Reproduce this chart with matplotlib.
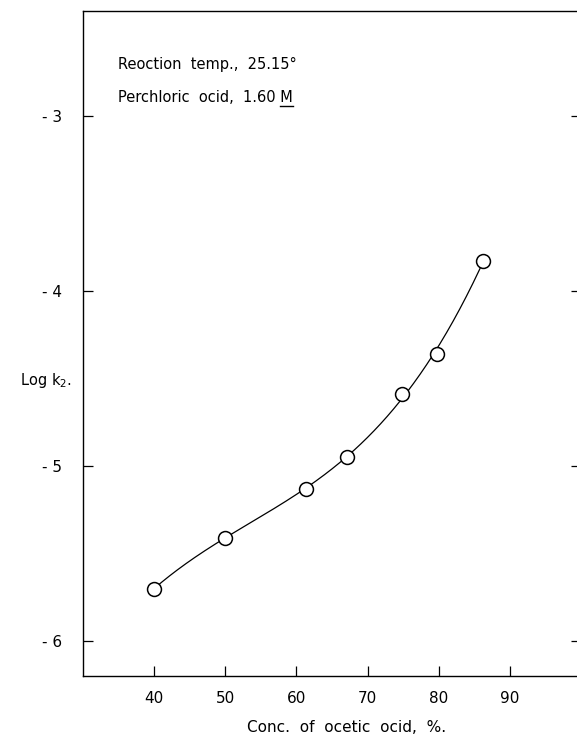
import numpy as np
import matplotlib
matplotlib.use("Agg")
import matplotlib.pyplot as plt
from matplotlib.lines import Line2D

# Data
conc_acetic = [40.0, 50.0, 61.3, 67.1, 74.8, 79.7, 86.2]
log_k2 = [-5.70, -5.41, -5.13, -4.95, -4.59, -4.36, -3.83]
x_ticks = [40, 50, 60, 70, 80, 90]
y_ticks = [-3, -4, -5, -6]
y_tick_labels = ["- 3", "- 4", "- 5", "- 6"]
note_lines = ["Reoction  temp.,  25.15°", "Perchloric  ocid,  1.60 M"]

W, H = 577, 736
fig = plt.figure(figsize=(W / 100, H / 100), dpi=100)
ax = fig.add_axes([83 / W, (H - 676) / H, 498 / W, 665 / H])

# smooth hand-drawn style curve through the points (least-squares cubic)
coef = np.polyfit(conc_acetic, log_k2, 3)
xs = np.linspace(conc_acetic[0], conc_acetic[-1], 300)
ax.plot(xs, np.polyval(coef, xs), color="black", lw=0.9, zorder=2)
ax.plot(conc_acetic, log_k2, "o", ms=10, mfc="white", mec="black", mew=1.1, zorder=3)

ax.set_xlim(30, 100)
ax.set_ylim(-6.2, -2.4)
ax.set_xticks(x_ticks)
ax.set_xticklabels([str(t) for t in x_ticks])
ax.set_yticks(y_ticks)
ax.set_yticklabels(y_tick_labels)
ax.tick_params(direction="in", length=7, width=0.9, labelsize=11, right=True)
ax.tick_params(axis="x", pad=11)
ax.tick_params(axis="y", pad=15)
for s in ax.spines.values():
    s.set_linewidth(1.0)

fs = 10.5
fig.text(118 / W, 1 - 64 / H, note_lines[0], fontsize=fs, va="center", ha="left")
t2 = fig.text(118 / W, 1 - 97 / H, note_lines[1], fontsize=fs, va="center", ha="left")

fig.text(46 / W, 1 - 381 / H, "Log k$_{2}$.", fontsize=fs, ha="center", va="center")
fig.text(347 / W, 1 - 727 / H, "Conc.  of  ocetic  ocid,  %.", fontsize=11,
         ha="center", va="center")

# underline the final "M"
fig.canvas.draw()
r = fig.canvas.get_renderer()
bb = t2.get_window_extent(r)
tm = fig.text(0, 0, "M", fontsize=fs)
mw = tm.get_window_extent(r).width
tm.remove()
uy = bb.y0 - 1
fig.add_artist(Line2D([(bb.x1 - mw) / W, bb.x1 / W], [uy / H, uy / H],
                      transform=fig.transFigure, color="black", lw=1.0))

fig.savefig("out.png", dpi=100)
